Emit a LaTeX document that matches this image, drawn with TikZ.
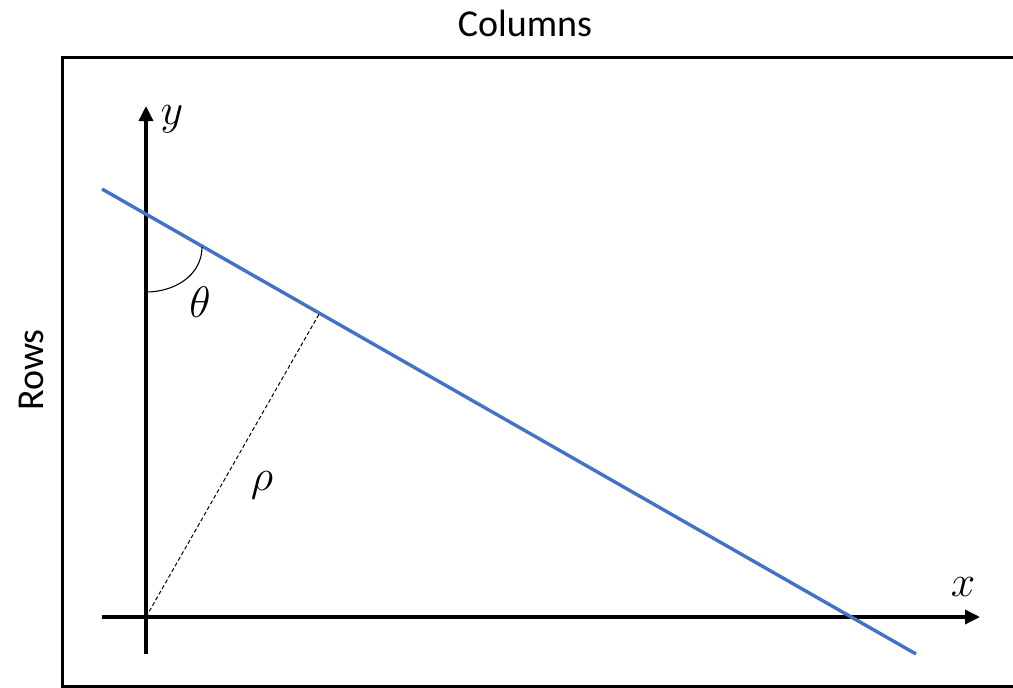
\RequirePackage{fix-cm}
\documentclass[tikz,border=0pt]{standalone}
\usepackage{fontspec}
\setmainfont{Carlito}
\usetikzlibrary{arrows.meta}
\definecolor{lineblue}{HTML}{4472C4}
\tikzset{
  axis/.style={line width=3.4pt,-{Triangle[length=15pt,width=14pt]}},
  lbl/.style={inner sep=0pt,font=\fontsize{38}{44}\selectfont},
  mlbl/.style={inner sep=0pt,font=\fontsize{44}{50}\selectfont},
}
\begin{document}
\begin{tikzpicture}[x=1pt,y=-1pt]
\useasboundingbox (0,0) rectangle (1013,688);
% frame
\draw[line width=3pt] (62,57) rectangle (1016,686.5);
% titles
\node[lbl,anchor=base] (cols) at (525,36) {Columns};
\node[lbl,anchor=base,rotate=90] (rows) at (43,370) {Rows};
% coordinates
\coordinate (o) at (146,617);
\coordinate (ytop) at (146,106);
\coordinate (ybot) at (146,654);
\coordinate (xleft) at (102,617);
\coordinate (xright) at (980,617);
\coordinate (ls) at (102,189);
\coordinate (le) at (916,654);
\coordinate (foot) at (319.5,313.3);
\coordinate (a1) at (146,292);
\coordinate (a2) at (202,247);
% axes
\draw[axis] (ybot) -- (ytop);
\draw[axis] (xleft) -- (xright);
% blue line
\draw[lineblue,line width=3.4pt] (ls) -- (le);
% dashed rho
\draw[line width=1pt,dash pattern=on 4pt off 2.5pt] (o) -- (foot);
% angle arc
\draw[line width=1.1pt] (a1) .. controls (175,292) and (202,275) .. (a2);
% labels
\node[mlbl] (ylab) at (172,119) {$y$};
\node[mlbl] (xlab) at (963,587) {$x$};
\node[mlbl] (th) at (200,302) {$\theta$};
\node[mlbl] (rho) at (262,485) {$\rho$};
\end{tikzpicture}
\end{document}
